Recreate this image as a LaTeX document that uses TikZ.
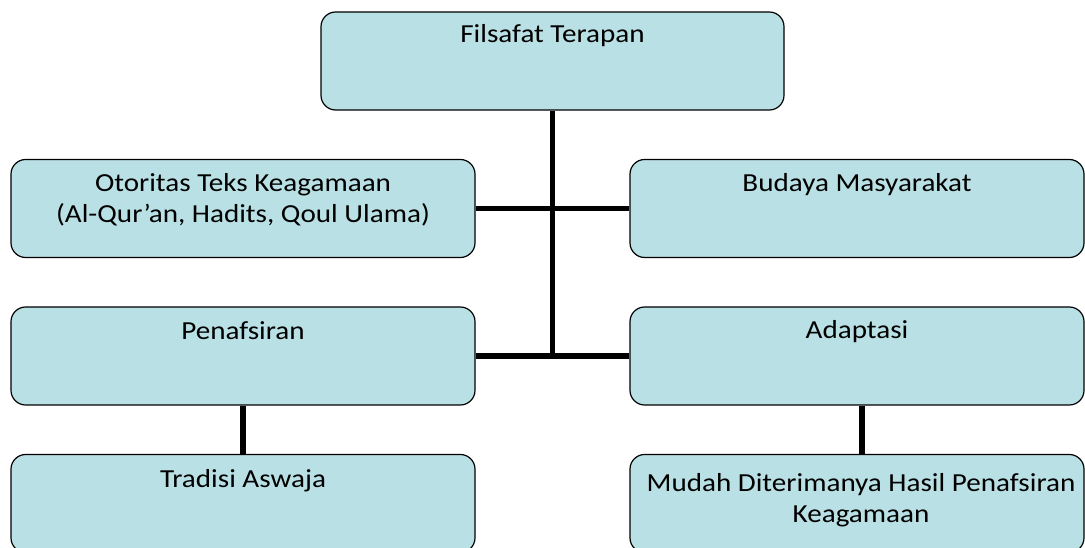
\documentclass[tikz,border=0pt]{standalone}
\usepackage{fontspec}
\setmainfont{Carlito}[FakeStretch=1.12]
\usetikzlibrary{calc}

\definecolor{kotakbiru}{RGB}{185,224,228}

\begin{document}
\begin{tikzpicture}[x=0.75pt,y=-0.75pt,
  kotak/.style={draw=black,line width=0.9pt,fill=kotakbiru,rounded corners=11pt,
    minimum height=73.5pt,inner sep=0pt},
  kiri/.style={kotak,minimum width=348pt},
  kanan/.style={kotak,minimum width=340.5pt},
  teks/.style={font=\fontsize{19.5}{23.6}\selectfont,align=center,anchor=base,inner sep=0pt},
  garis/.style={line width=3.8pt,black}]

\useasboundingbox (0,0) rectangle (1085,548);

\node[kotak,minimum width=347.25pt] (filsafat) at (552.5,61) {};
\node[kiri]  (otoritas)   at (243,208.5) {};
\node[kanan] (budaya)     at (857,208.5) {};
\node[kiri]  (penafsiran) at (243,356) {};
\node[kanan] (adaptasi)   at (857,356) {};
\node[kiri]  (tradisi)    at (243,503.5) {};
\node[kanan] (mudah)      at (857,503.5) {};

% teks di bagian atas kotak (base = baris terakhir)
\node[teks] (tFilsafat) at ([yshift=-23pt]filsafat.north) {Filsafat Terapan};
\node[teks] (tOtoritas) at ([yshift=-48pt]otoritas.north) {Otoritas Teks Keagamaan\\(Al-Qur’an, Hadits, Qoul Ulama)};
\node[teks] (tBudaya) at ([yshift=-24.5pt]budaya.north) {Budaya Masyarakat};
\node[teks] (tPenafsiran) at ([yshift=-24.5pt]penafsiran.north) {Penafsiran};
\node[teks] (tAdaptasi) at ([yshift=-24pt]adaptasi.north) {Adaptasi};
\node[teks] (tTradisi) at ([yshift=-25.5pt]tradisi.north) {Tradisi Aswaja};
\node[teks] (tMudah) at ([xshift=3pt,yshift=-51.75pt]mudah.north) {Mudah Diterimanya Hasil Penafsiran\\Keagamaan};

\coordinate (simpul) at (filsafat.south |- penafsiran.east);
\draw[garis] (filsafat.south) -- (simpul);
\draw[garis] (otoritas.east) -- (budaya.west);
\draw[garis] (penafsiran.east) -- (adaptasi.west);
\draw[garis] (penafsiran.south) -- (tradisi.north);
\draw[garis] ([xshift=3.75pt]adaptasi.south) -- ([xshift=3.75pt]mudah.north);
\end{tikzpicture}
\end{document}
